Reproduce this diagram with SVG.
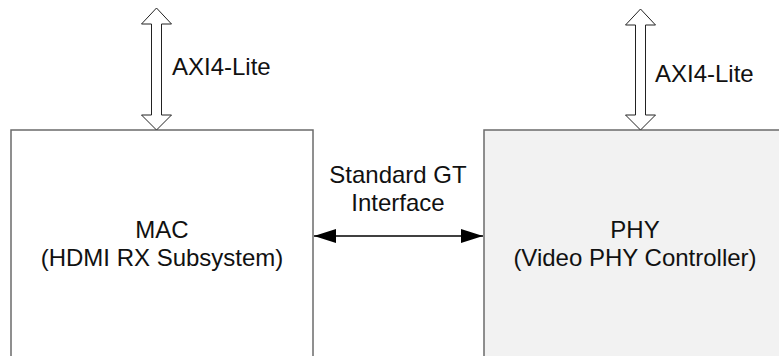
<svg xmlns="http://www.w3.org/2000/svg" width="779" height="356" viewBox="0 0 779 356">
  <defs>
    <marker id="ah" markerWidth="22" markerHeight="14" refX="22" refY="7" orient="auto-start-reverse" markerUnits="userSpaceOnUse">
      <path d="M0,0 L22,7 L0,14 Z" fill="#000"/>
    </marker>
    <style>
      .box{stroke:#6b6b6b;stroke-width:1.5}
      .lbl{font-family:"Liberation Sans",Arial,sans-serif;font-size:24px;fill:#111;text-anchor:middle}
      .lbls{font-family:"Liberation Sans",Arial,sans-serif;font-size:24px;fill:#111}
      .barrow{fill:#fff;stroke:#222;stroke-width:1}
    </style>
  </defs>
  <rect width="779" height="356" fill="#fff"/>
  <g id="mac">
    <rect class="box" x="11" y="130" width="302" height="240" fill="#fff"/>
    <text class="lbl" x="162" y="238">MAC</text>
    <text class="lbl" x="162" y="266">(HDMI RX Subsystem)</text>
  </g>
  <g id="phy">
    <rect class="box" x="484" y="130" width="310" height="240" fill="#f2f2f2"/>
    <text class="lbl" x="635" y="238">PHY</text>
    <text class="lbl" x="635" y="266">(Video PHY Controller)</text>
  </g>
  <g id="connectors">
    <path class="barrow" d="M156.5,8 L171.5,24 L161.5,24 L161.5,115 L171.5,115 L156.5,130 L141.5,115 L151.5,115 L151.5,24 L141.5,24 Z"/>
    <path class="barrow" d="M640.5,9 L655.5,25 L645.5,25 L645.5,115 L655.5,115 L640.5,130 L625.5,115 L635.5,115 L635.5,25 L625.5,25 Z"/>
    <line x1="314" y1="236" x2="483" y2="236" stroke="#000" stroke-width="1.5" marker-start="url(#ah)" marker-end="url(#ah)"/>
  </g>
  <g id="labels">
    <text class="lbls" x="172" y="75">AXI4-Lite</text>
    <text class="lbls" x="655" y="82">AXI4-Lite</text>
    <text class="lbl" x="398" y="183">Standard GT</text>
    <text class="lbl" x="398" y="211">Interface</text>
  </g>
</svg>
